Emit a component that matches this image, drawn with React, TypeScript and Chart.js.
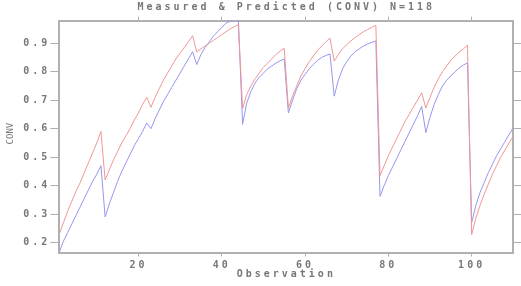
import React, { useEffect, useRef } from "react";
import { Chart, registerables } from "chart.js";

Chart.register(...registerables);

const chartTitle = "Measured & Predicted (CONV) N=118";
const xTitle = "Observation";
const yTitle = "CONV";

// Observation numbers 1..110 (x positions)
const observations: number[] = Array.from({ length: 110 }, (_, i) => i + 1);

const measured: number[] = [
  0.23, 0.27, 0.31, 0.345, 0.38, 0.41, 0.445, 0.48, 0.515, 0.55, 0.59,
  0.42, 0.455, 0.49, 0.52, 0.55, 0.575, 0.6, 0.63, 0.655, 0.685, 0.71,
  0.675, 0.71, 0.74, 0.77, 0.795, 0.82, 0.845, 0.865, 0.885, 0.905, 0.926,
  0.87, 0.88, 0.89, 0.9, 0.91, 0.92, 0.93, 0.94, 0.95, 0.958, 0.965,
  0.67, 0.72, 0.75, 0.775, 0.795, 0.815, 0.83, 0.845, 0.86, 0.872, 0.882,
  0.672, 0.715, 0.75, 0.785, 0.81, 0.835, 0.855, 0.875, 0.89, 0.905, 0.918,
  0.837, 0.86, 0.88, 0.895, 0.908, 0.92, 0.93, 0.94, 0.948, 0.956, 0.963,
  0.435, 0.47, 0.505, 0.535, 0.565, 0.595, 0.625, 0.65, 0.675, 0.7, 0.726,
  0.672, 0.71, 0.745, 0.775, 0.8, 0.82, 0.84, 0.855, 0.868, 0.88, 0.893,
  0.228, 0.285, 0.33, 0.37, 0.405, 0.44, 0.47, 0.5, 0.525, 0.55, 0.574,
];

const predicted: number[] = [
  0.166, 0.205, 0.235, 0.265, 0.295, 0.325, 0.355, 0.385, 0.415, 0.44, 0.47,
  0.29, 0.335, 0.375, 0.415, 0.45, 0.48, 0.51, 0.54, 0.565, 0.59, 0.62,
  0.6, 0.635, 0.665, 0.695, 0.72, 0.745, 0.77, 0.795, 0.82, 0.845, 0.87,
  0.825, 0.86, 0.885, 0.905, 0.925, 0.94, 0.955, 0.97, 0.978, 0.979, 0.979,
  0.615, 0.69, 0.73, 0.76, 0.78, 0.795, 0.81, 0.82, 0.83, 0.838, 0.845,
  0.655, 0.7, 0.74, 0.77, 0.79, 0.81, 0.825, 0.84, 0.85, 0.857, 0.862,
  0.714, 0.77, 0.81, 0.835, 0.855, 0.87, 0.88, 0.89, 0.897, 0.903, 0.908,
  0.362, 0.4, 0.435, 0.465, 0.495, 0.525, 0.555, 0.585, 0.615, 0.645, 0.678,
  0.586, 0.64, 0.685, 0.72, 0.75, 0.77, 0.785, 0.8, 0.813, 0.823, 0.831,
  0.27, 0.33, 0.375, 0.41, 0.445, 0.475, 0.505, 0.53, 0.555, 0.58, 0.603,
];

const xTicks: number[] = [20, 40, 60, 80, 100];
const yTicks: number[] = [0.2, 0.3, 0.4, 0.5, 0.6, 0.7, 0.8, 0.9];
const xMin = 1;
const xMax = 110;
const yMin = 0.165;
const yMax = 0.979;

const TEXT = "#777777";
const FRAME = "#b0b0b0";
const FONT = "DejaVu Sans Mono";
const SPACING = "3px";

export default function App() {
  const ref = useRef<HTMLCanvasElement | null>(null);

  useEffect(() => {
    if (!ref.current) return;
    const setSpacing = (chart: any) => {
      try {
        (chart.ctx as any).letterSpacing = SPACING;
      } catch (e) {}
    };
    const textPlugin = {
      id: "textPlugin",
      beforeUpdate: setSpacing,
      beforeLayout: setSpacing,
      beforeDraw: setSpacing,
      afterDraw(chart: any) {
        const ctx = chart.ctx as CanvasRenderingContext2D;
        const area = chart.chartArea;
        ctx.save();
        (ctx as any).letterSpacing = SPACING;
        ctx.fillStyle = TEXT;
        ctx.font = `bold 10px "${FONT}"`;
        ctx.textAlign = "center";
        ctx.textBaseline = "middle";
        ctx.fillText(chartTitle, (area.left + area.right) / 2, 7);
        (ctx as any).letterSpacing = "0px";
        ctx.font = `9px "${FONT}"`;
        ctx.translate(10.5, (area.top + area.bottom) / 2 - 3);
        ctx.rotate(-Math.PI / 2);
        ctx.fillText(yTitle, 0, 0);
        ctx.restore();
      },
    };

    const fixTicks = (vals: number[]) => (scale: any) => {
      scale.ticks = vals.map((v) => ({ value: v }));
    };

    const baseGrid = {
      drawOnChartArea: false,
      drawTicks: true,
      color: FRAME,
      lineWidth: 1,
    };
    const border = { display: true, color: FRAME, width: 2 };
    const tickFont = { family: FONT, size: 10, weight: "bold" as const };

    const chart = new Chart(ref.current, {
      type: "line",
      data: {
        datasets: [
          {
            label: "Measured",
            data: observations.map((x, i) => ({ x, y: measured[i] })),
            borderColor: "rgb(240,150,150)",
            borderWidth: 1,
            pointRadius: 0,
            tension: 0,
            fill: false,
          },
          {
            label: "Predicted",
            data: observations.map((x, i) => ({ x, y: predicted[i] })),
            borderColor: "rgb(150,150,240)",
            borderWidth: 1,
            pointRadius: 0,
            tension: 0,
            fill: false,
          },
        ],
      },
      options: {
        animation: false,
        responsive: false,
        layout: { padding: 0 },
        plugins: {
          legend: { display: false },
          title: { display: false },
          tooltip: { enabled: false },
        },
        scales: {
          x: {
            type: "linear",
            position: "bottom",
            min: xMin,
            max: xMax,
            afterBuildTicks: fixTicks(xTicks),
            afterFit: (s: any) => {
              s.height = 33.5;
            },
            grid: { ...baseGrid, tickLength: 4 },
            border,
            ticks: {
              color: TEXT,
              font: tickFont,
              padding: 3,
              maxRotation: 0,
              autoSkip: false,
              callback: (v: any) => String(v),
            },
            title: {
              display: true,
              text: xTitle,
              color: TEXT,
              font: tickFont,
              padding: { top: 0, bottom: 6 },
            },
          },
          xTop: {
            type: "linear",
            position: "top",
            min: xMin,
            max: xMax,
            afterBuildTicks: fixTicks(xTicks),
            afterFit: (s: any) => {
              s.height = 20.7;
            },
            grid: { ...baseGrid, tickLength: 4 },
            border,
            ticks: { display: false },
          },
          y: {
            type: "linear",
            position: "left",
            min: yMin,
            max: yMax,
            afterBuildTicks: fixTicks(yTicks),
            afterFit: (s: any) => {
              s.width = 59.3;
            },
            grid: { ...baseGrid, tickLength: 9 },
            border,
            ticks: {
              color: TEXT,
              font: tickFont,
              padding: 0,
              callback: (v: any) => Number(v).toFixed(1),
            },
          },
          yRight: {
            type: "linear",
            position: "right",
            min: yMin,
            max: yMax,
            afterBuildTicks: fixTicks(yTicks),
            afterFit: (s: any) => {
              s.width = 7.7;
            },
            grid: { ...baseGrid, tickLength: 8 },
            border,
            ticks: { display: false },
          },
        },
      },
      plugins: [textPlugin],
    } as any);

    return () => chart.destroy();
  }, []);

  return (
    <div style={{ position: "fixed", left: 0, top: 0, width: 521, height: 286, background: "#fff" }}>
      <canvas ref={ref} width={521} height={286} style={{ width: 521, height: 286, display: "block" }} />
    </div>
  );
}
